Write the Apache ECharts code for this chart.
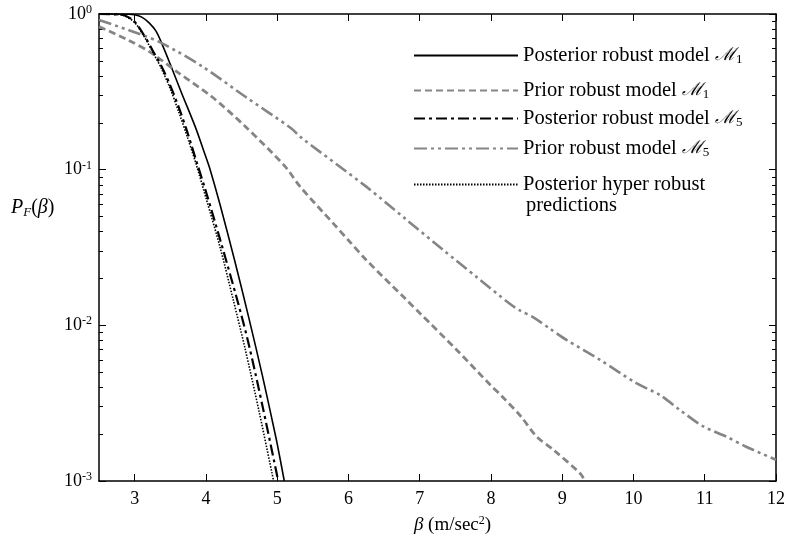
<!DOCTYPE html>
<html>
<head>
<meta charset="utf-8">
<script src="https://cdn.jsdelivr.net/npm/echarts@6/dist/echarts.min.js"></script>
<style>
html,body{margin:0;padding:0;background:#fff;}
#chart{width:785px;height:539px;}
</style>
</head>
<body>
<div id="chart"></div>
<script>
// ---- data ----
const xTicks = [3, 4, 5, 6, 7, 8, 9, 10, 11, 12];
const yMajor = [0.001, 0.01, 0.1, 1];
const yMinor = [0.002,0.003,0.004,0.005,0.006,0.007,0.008,0.009,
                0.02,0.03,0.04,0.05,0.06,0.07,0.08,0.09,
                0.2,0.3,0.4,0.5,0.6,0.7,0.8,0.9];

const postM1Beta = [2.5, 2.7, 2.9, 3.0, 3.1, 3.2, 3.3, 3.38, 3.5, 3.66, 3.85, 4.0, 4.06, 4.2, 4.4, 4.6, 4.8, 4.92, 5.0, 5.1];
const postM1Pf   = [1.0, 0.999, 0.996, 0.99, 0.955, 0.88, 0.776, 0.648, 0.476, 0.31, 0.189, 0.1205, 0.10, 0.0593, 0.0265, 0.0113, 0.0046, 0.00258, 0.00174, 0.001];

const priorM1Beta = [2.5, 2.91, 3.24, 3.61, 4.08, 4.55, 5.11, 5.32, 5.8, 6.0, 6.25, 6.8, 7.0, 7.52, 8.0, 8.16, 8.42, 8.64, 8.88, 9.25, 9.32];
const priorM1Pf   = [0.83, 0.68, 0.56, 0.42, 0.295, 0.19, 0.105, 0.078, 0.0445, 0.0352, 0.0263, 0.0148, 0.012, 0.00695, 0.0041, 0.00348, 0.0026, 0.00193, 0.00158, 0.00112, 0.001];

const postM5Beta = [2.5, 2.7, 2.86, 3.0, 3.145, 3.26, 3.38, 3.5, 3.62, 3.74, 3.87, 4.0, 4.2, 4.44, 4.6, 4.8, 5.015];
const postM5Pf   = [1.0, 0.995, 0.979, 0.891, 0.715, 0.575, 0.459, 0.347, 0.251, 0.174, 0.112, 0.0724, 0.0355, 0.01456, 0.0076, 0.00295, 0.001];

const priorM5Beta = [2.5, 3.05, 3.38, 3.95, 4.55, 5.2, 5.32, 6.25, 6.8, 7.33, 7.8, 8.26, 8.4, 8.59, 8.83, 9.06, 9.53, 10.04, 10.37, 10.65, 10.98, 11.3, 11.58, 12.0];
const priorM5Pf   = [0.915, 0.75, 0.65, 0.46, 0.295, 0.184, 0.163, 0.0778, 0.0483, 0.0305, 0.0204, 0.0138, 0.0125, 0.0113, 0.0095, 0.00806, 0.006, 0.00425, 0.00357, 0.00286, 0.00224, 0.00193, 0.00166, 0.00137];

const hyperBeta = [2.5, 2.7, 2.85, 3.0, 3.14, 3.26, 3.37, 3.5, 3.62, 3.74, 3.86, 4.0, 4.2, 4.384, 4.55, 4.75, 4.95];
const hyperPf   = [1.0, 0.995, 0.977, 0.881, 0.708, 0.562, 0.452, 0.331, 0.234, 0.162, 0.1096, 0.0661, 0.0316, 0.01456, 0.00708, 0.00275, 0.001];

const seriesNames = [
  'Posterior robust model M1',
  'Prior robust model M1',
  'Posterior robust model M5',
  'Prior robust model M5',
  'Posterior hyper robust'
];
const legendLabels = {
  'Posterior robust model M1': '{t|Posterior robust model }{m|ℳ}{s|1}',
  'Prior robust model M1': '{t|Prior robust model }{m|ℳ}{s|1}',
  'Posterior robust model M5': '{t|Posterior robust model }{m|ℳ}{s|5}',
  'Prior robust model M5': '{t|Prior robust model }{m|ℳ}{s|5}',
  'Posterior hyper robust': '{t|Posterior hyper robust}'
};

function zip(a, b) { return a.map((v, i) => [v, b[i]]); }

const FONT = '"Liberation Serif", "Times New Roman", serif';
const GRAY = '#858585';
const legendRich = {
  t: { fontFamily: FONT, fontSize: 20.5, color: '#000' },
  m: { fontFamily: '"DejaVu Serif", serif', fontStyle: 'italic', fontSize: 18, color: '#000' },
  s: { fontFamily: FONT, fontSize: 13, color: '#000', verticalAlign: 'bottom', padding: [9, 0, 0, 0] }
};

const legendTops = [55, 90, 118, 148, 184];
const legends = seriesNames.map((n, i) => ({
  data: [n],
  left: 413,
  top: legendTops[i] - 10,
  padding: 0,
  itemWidth: 104,
  itemHeight: 14,
  selectedMode: false,
  itemStyle: { color: 'rgba(0,0,0,0)', borderWidth: 0, opacity: 0 },
  formatter: name => legendLabels[name],
  textStyle: { fontFamily: FONT, fontSize: 20.5, color: '#000', rich: legendRich }
}));

const chart = echarts.init(document.getElementById('chart'), null, { renderer: 'canvas' });

const yBase = {
  type: 'log', logBase: 10, min: 0.001, max: 1,
  splitLine: { show: false }
};

chart.setOption({
  animation: false,
  backgroundColor: '#fff',
  grid: { left: 99, right: 9, top: 14, bottom: 58, containLabel: false, outerBoundsMode: 'none' },
  legend: legends,
  title: {
    text: '{i|P}{f|F}{n|(}{i|β}{n|)}',
    left: 11, top: 196,
    padding: 0,
    textStyle: {
      fontWeight: 'normal',
      rich: {
        i: { fontFamily: FONT, fontStyle: 'italic', fontWeight: 'normal', fontSize: 20, color: '#000' },
        f: { fontFamily: FONT, fontStyle: 'italic', fontWeight: 'normal', fontSize: 13, color: '#000', verticalAlign: 'bottom', padding: [10, 0, 0, 0] },
        n: { fontFamily: FONT, fontWeight: 'normal', fontSize: 20, color: '#000' }
      }
    }
  },
  graphic: [{
    type: 'text', left: 526, top: 195,
    style: { text: 'predictions', fontFamily: FONT, fontSize: 20.5, fill: '#000' }
  }],
  xAxis: [{
    type: 'value', min: 2.5, max: 12, position: 'bottom',
    axisLine: { lineStyle: { color: '#000', width: 1.5 } },
    axisTick: { inside: true, length: 7, customValues: xTicks, lineStyle: { color: '#000' } },
    axisLabel: { customValues: xTicks, margin: 9, fontFamily: FONT, fontSize: 18, color: '#000' },
    splitLine: { show: false },
    name: '{i|β}{n| (m/sec}{s|2}{n|)}',
    nameLocation: 'middle', nameGap: 34,
    nameTextStyle: {
      padding: [0, 0, 0, 30],
      rich: {
        i: { fontFamily: FONT, fontStyle: 'italic', fontSize: 19, color: '#000' },
        n: { fontFamily: FONT, fontSize: 19, color: '#000' },
        s: { fontFamily: FONT, fontSize: 12, color: '#000', verticalAlign: 'top', padding: [0, 0, 8, 0] }
      }
    }
  }, {
    type: 'value', min: 2.5, max: 12, position: 'top',
    axisLine: { lineStyle: { color: '#000', width: 1.5 } },
    axisTick: { inside: true, length: 7, customValues: xTicks, lineStyle: { color: '#000' } },
    axisLabel: { show: false },
    splitLine: { show: false }
  }],
  yAxis: [
    Object.assign({}, yBase, {
      position: 'left',
      axisLine: { show: true, lineStyle: { color: '#000', width: 1.5 } },
      axisTick: { inside: true, length: 7, customValues: yMajor, lineStyle: { color: '#000' } },
      axisLabel: {
        customValues: yMajor, margin: 7,
        formatter: v => '{b|10}{e|' + Math.round(Math.log10(v)) + '}',
        rich: {
          b: { fontFamily: FONT, fontSize: 18, color: '#000' },
          e: { fontFamily: FONT, fontSize: 12, color: '#000', verticalAlign: 'top', padding: [0, 0, 8, 0] }
        }
      }
    }),
    Object.assign({}, yBase, {
      position: 'left',
      axisLine: { show: false },
      axisTick: { inside: true, length: 4, customValues: yMinor, lineStyle: { color: '#000' } },
      axisLabel: { show: false }
    }),
    Object.assign({}, yBase, {
      position: 'right',
      axisLine: { show: true, lineStyle: { color: '#000', width: 1.5 } },
      axisTick: { inside: true, length: 7, customValues: yMajor, lineStyle: { color: '#000' } },
      axisLabel: { show: false }
    }),
    Object.assign({}, yBase, {
      position: 'right',
      axisLine: { show: false },
      axisTick: { inside: true, length: 4, customValues: yMinor, lineStyle: { color: '#000' } },
      axisLabel: { show: false }
    })
  ],
  series: [
    { name: seriesNames[0], type: 'line', symbol: 'none', smooth: 0.3, data: zip(postM1Beta, postM1Pf),
      lineStyle: { color: '#000', width: 1.6, type: 'solid' }, itemStyle: { color: '#000' } },
    { name: seriesNames[1], type: 'line', symbol: 'none', smooth: 0.3, data: zip(priorM1Beta, priorM1Pf),
      lineStyle: { color: GRAY, width: 2.8, type: [7, 4] }, itemStyle: { color: GRAY } },
    { name: seriesNames[2], type: 'line', symbol: 'none', smooth: 0.3, data: zip(postM5Beta, postM5Pf),
      lineStyle: { color: '#000', width: 2.2, type: [11, 4, 3, 4] }, itemStyle: { color: '#000' } },
    { name: seriesNames[3], type: 'line', symbol: 'none', smooth: 0.3, data: zip(priorM5Beta, priorM5Pf),
      lineStyle: { color: GRAY, width: 2.6, type: [13, 4, 3, 4, 3, 4] }, itemStyle: { color: GRAY } },
    { name: seriesNames[4], type: 'line', symbol: 'none', smooth: 0.3, data: zip(hyperBeta, hyperPf),
      lineStyle: { color: '#000', width: 1.6, type: [1.5, 1.5] }, itemStyle: { color: '#000' } }
  ]
});
</script>
</body>
</html>
